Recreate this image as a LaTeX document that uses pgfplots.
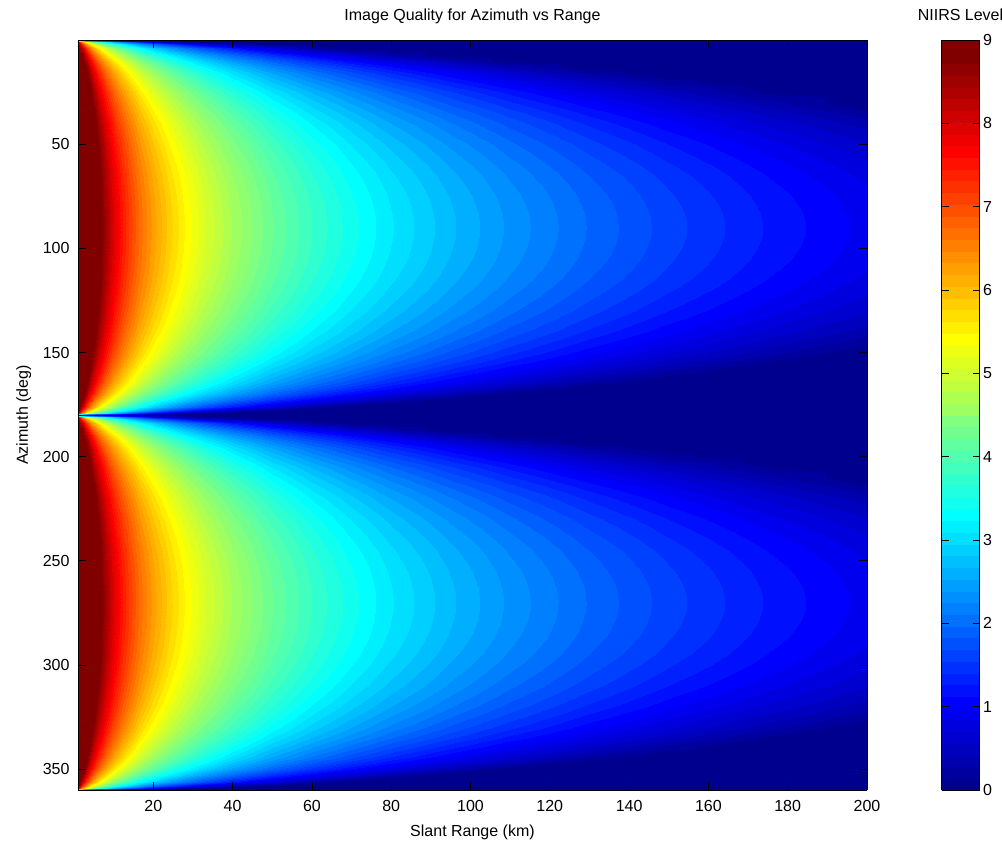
\documentclass[border=0pt]{standalone}
\usepackage{fontspec}
\setmainfont{Liberation Sans}
\usepackage{pgfplots}
\usepackage{pgfplotstable}
\pgfplotsset{compat=1.18}
\pgfplotsset{
  colormap={jet64}{
    rgb=(0,0,0.5625) rgb=(0,0,0.625) rgb=(0,0,0.6875) rgb=(0,0,0.75)
    rgb=(0,0,0.8125) rgb=(0,0,0.875) rgb=(0,0,0.9375) rgb=(0,0,1)
    rgb=(0,0.0625,1) rgb=(0,0.125,1) rgb=(0,0.1875,1) rgb=(0,0.25,1)
    rgb=(0,0.3125,1) rgb=(0,0.375,1) rgb=(0,0.4375,1) rgb=(0,0.5,1)
    rgb=(0,0.5625,1) rgb=(0,0.625,1) rgb=(0,0.6875,1) rgb=(0,0.75,1)
    rgb=(0,0.8125,1) rgb=(0,0.875,1) rgb=(0,0.9375,1) rgb=(0,1,1)
    rgb=(0.0625,1,0.9375) rgb=(0.125,1,0.875) rgb=(0.1875,1,0.8125) rgb=(0.25,1,0.75)
    rgb=(0.3125,1,0.6875) rgb=(0.375,1,0.625) rgb=(0.4375,1,0.5625) rgb=(0.5,1,0.5)
    rgb=(0.5625,1,0.4375) rgb=(0.625,1,0.375) rgb=(0.6875,1,0.3125) rgb=(0.75,1,0.25)
    rgb=(0.8125,1,0.1875) rgb=(0.875,1,0.125) rgb=(0.9375,1,0.0625) rgb=(1,1,0)
    rgb=(1,0.9375,0) rgb=(1,0.875,0) rgb=(1,0.8125,0) rgb=(1,0.75,0)
    rgb=(1,0.6875,0) rgb=(1,0.625,0) rgb=(1,0.5625,0) rgb=(1,0.5,0)
    rgb=(1,0.4375,0) rgb=(1,0.375,0) rgb=(1,0.3125,0) rgb=(1,0.25,0)
    rgb=(1,0.1875,0) rgb=(1,0.125,0) rgb=(1,0.0625,0) rgb=(1,0,0)
    rgb=(0.9375,0,0) rgb=(0.875,0,0) rgb=(0.8125,0,0) rgb=(0.75,0,0)
    rgb=(0.6875,0,0) rgb=(0.625,0,0) rgb=(0.5625,0,0) rgb=(0.5,0,0)
    rgb=(0.5,0,0)
  }
}
% NIIRS level on a grid: slant range r (km), azimuth az 0..90 deg
% (the pattern repeats symmetrically about 90, 180 and 270 deg)
\pgfplotstableread[row sep=\\]{
r az v\\
1 0 0\\2 0 0\\3 0 0\\4 0 0\\5 0 0\\6 0 0\\8 0 0\\10 0 0\\12 0 0\\14 0 0\\17 0 0\\20 0 0\\24 0 0\\28 0 0\\33 0 0\\40 0 0\\50 0 0\\60 0 0\\70 0 0\\80 0 0\\95 0 0\\110 0 0\\130 0 0\\150 0 0\\175 0 0\\200 0 0\\
1 1 8.066\\2 1 6.44\\3 1 5.49\\4 1 4.815\\5 1 4.292\\6 1 3.864\\8 1 3.189\\10 1 2.666\\12 1 2.238\\14 1 1.877\\17 1 1.422\\20 1 1.04\\24 1 0.613\\28 1 0.251\\33 1 0\\40 1 0\\50 1 0\\60 1 0\\70 1 0\\80 1 0\\95 1 0\\110 1 0\\130 1 0\\150 1 0\\175 1 0\\200 1 0\\
1 2 8.968\\2 2 7.342\\3 2 6.392\\4 2 5.717\\5 2 5.194\\6 2 4.766\\8 2 4.091\\10 2 3.568\\12 2 3.14\\14 2 2.779\\17 2 2.324\\20 2 1.942\\24 2 1.515\\28 2 1.153\\33 2 0.768\\40 2 0.317\\50 2 0\\60 2 0\\70 2 0\\80 2 0\\95 2 0\\110 2 0\\130 2 0\\150 2 0\\175 2 0\\200 2 0\\
1 4 9\\2 4 8.245\\3 4 7.295\\4 4 6.62\\5 4 6.097\\6 4 5.669\\8 4 4.994\\10 4 4.471\\12 4 4.043\\14 4 3.682\\17 4 3.227\\20 4 2.845\\24 4 2.418\\28 4 2.056\\33 4 1.671\\40 4 1.22\\50 4 0.697\\60 4 0.269\\70 4 0\\80 4 0\\95 4 0\\110 4 0\\130 4 0\\150 4 0\\175 4 0\\200 4 0\\
1 7 9\\2 7 8.972\\3 7 8.022\\4 7 7.347\\5 7 6.824\\6 7 6.396\\8 7 5.721\\10 7 5.198\\12 7 4.77\\14 7 4.409\\17 7 3.954\\20 7 3.572\\24 7 3.145\\28 7 2.783\\33 7 2.398\\40 7 1.947\\50 7 1.424\\60 7 0.996\\70 7 0.634\\80 7 0.321\\95 7 0\\110 7 0\\130 7 0\\150 7 0\\175 7 0\\200 7 0\\
1 10 9\\2 10 9\\3 10 8.483\\4 10 7.808\\5 10 7.285\\6 10 6.857\\8 10 6.182\\10 10 5.659\\12 10 5.231\\14 10 4.87\\17 10 4.415\\20 10 4.033\\24 10 3.606\\28 10 3.244\\33 10 2.859\\40 10 2.408\\50 10 1.885\\60 10 1.457\\70 10 1.095\\80 10 0.782\\95 10 0.379\\110 10 0.036\\130 10 0\\150 10 0\\175 10 0\\200 10 0\\
1 13 9\\2 13 9\\3 13 8.82\\4 13 8.145\\5 13 7.622\\6 13 7.194\\8 13 6.519\\10 13 5.996\\12 13 5.568\\14 13 5.207\\17 13 4.752\\20 13 4.37\\24 13 3.943\\28 13 3.581\\33 13 3.196\\40 13 2.745\\50 13 2.222\\60 13 1.794\\70 13 1.432\\80 13 1.119\\95 13 0.716\\110 13 0.373\\130 13 0\\150 13 0\\175 13 0\\200 13 0\\
1 16 9\\2 16 9\\3 16 9\\4 16 8.41\\5 16 7.887\\6 16 7.459\\8 16 6.784\\10 16 6.261\\12 16 5.833\\14 16 5.472\\17 16 5.017\\20 16 4.635\\24 16 4.208\\28 16 3.846\\33 16 3.461\\40 16 3.01\\50 16 2.487\\60 16 2.059\\70 16 1.697\\80 16 1.384\\95 16 0.981\\110 16 0.638\\130 16 0.246\\150 16 0\\175 16 0\\200 16 0\\
1 20 9\\2 20 9\\3 20 9\\4 20 8.691\\5 20 8.168\\6 20 7.74\\8 20 7.065\\10 20 6.542\\12 20 6.114\\14 20 5.753\\17 20 5.298\\20 20 4.916\\24 20 4.489\\28 20 4.127\\33 20 3.742\\40 20 3.291\\50 20 2.768\\60 20 2.34\\70 20 1.978\\80 20 1.665\\95 20 1.262\\110 20 0.919\\130 20 0.527\\150 20 0.191\\175 20 0\\200 20 0\\
1 25 9\\2 25 9\\3 25 9\\4 25 8.967\\5 25 8.444\\6 25 8.016\\8 25 7.341\\10 25 6.818\\12 25 6.39\\14 25 6.029\\17 25 5.574\\20 25 5.192\\24 25 4.765\\28 25 4.403\\33 25 4.018\\40 25 3.567\\50 25 3.044\\60 25 2.616\\70 25 2.254\\80 25 1.941\\95 25 1.538\\110 25 1.195\\130 25 0.803\\150 25 0.467\\175 25 0.106\\200 25 0\\
1 30 9\\2 30 9\\3 30 9\\4 30 9\\5 30 8.663\\6 30 8.235\\8 30 7.56\\10 30 7.037\\12 30 6.609\\14 30 6.248\\17 30 5.793\\20 30 5.411\\24 30 4.984\\28 30 4.622\\33 30 4.237\\40 30 3.786\\50 30 3.263\\60 30 2.835\\70 30 2.473\\80 30 2.16\\95 30 1.757\\110 30 1.414\\130 30 1.022\\150 30 0.686\\175 30 0.325\\200 30 0.011\\
1 35 9\\2 35 9\\3 35 9\\4 35 9\\5 35 8.842\\6 35 8.414\\8 35 7.739\\10 35 7.216\\12 35 6.788\\14 35 6.427\\17 35 5.972\\20 35 5.59\\24 35 5.163\\28 35 4.801\\33 35 4.416\\40 35 3.965\\50 35 3.442\\60 35 3.014\\70 35 2.652\\80 35 2.339\\95 35 1.936\\110 35 1.593\\130 35 1.201\\150 35 0.865\\175 35 0.504\\200 35 0.19\\
1 40 9\\2 40 9\\3 40 9\\4 40 9\\5 40 8.99\\6 40 8.562\\8 40 7.887\\10 40 7.364\\12 40 6.936\\14 40 6.575\\17 40 6.12\\20 40 5.738\\24 40 5.311\\28 40 4.949\\33 40 4.564\\40 40 4.113\\50 40 3.59\\60 40 3.162\\70 40 2.8\\80 40 2.487\\95 40 2.084\\110 40 1.741\\130 40 1.349\\150 40 1.013\\175 40 0.652\\200 40 0.338\\
1 45 9\\2 45 9\\3 45 9\\4 45 9\\5 45 9\\6 45 8.686\\8 45 8.011\\10 45 7.488\\12 45 7.06\\14 45 6.699\\17 45 6.244\\20 45 5.862\\24 45 5.435\\28 45 5.073\\33 45 4.688\\40 45 4.237\\50 45 3.714\\60 45 3.286\\70 45 2.924\\80 45 2.611\\95 45 2.208\\110 45 1.865\\130 45 1.473\\150 45 1.137\\175 45 0.776\\200 45 0.462\\
1 50 9\\2 50 9\\3 50 9\\4 50 9\\5 50 9\\6 50 8.791\\8 50 8.116\\10 50 7.593\\12 50 7.165\\14 50 6.804\\17 50 6.349\\20 50 5.967\\24 50 5.54\\28 50 5.178\\33 50 4.793\\40 50 4.342\\50 50 3.819\\60 50 3.391\\70 50 3.029\\80 50 2.716\\95 50 2.313\\110 50 1.97\\130 50 1.578\\150 50 1.242\\175 50 0.881\\200 50 0.567\\
1 55 9\\2 55 9\\3 55 9\\4 55 9\\5 55 9\\6 55 8.878\\8 55 8.203\\10 55 7.68\\12 55 7.252\\14 55 6.891\\17 55 6.436\\20 55 6.054\\24 55 5.627\\28 55 5.265\\33 55 4.88\\40 55 4.429\\50 55 3.906\\60 55 3.478\\70 55 3.116\\80 55 2.803\\95 55 2.4\\110 55 2.057\\130 55 1.665\\150 55 1.329\\175 55 0.968\\200 55 0.654\\
1 60 9\\2 60 9\\3 60 9\\4 60 9\\5 60 9\\6 60 8.95\\8 60 8.275\\10 60 7.752\\12 60 7.324\\14 60 6.963\\17 60 6.508\\20 60 6.126\\24 60 5.699\\28 60 5.337\\33 60 4.952\\40 60 4.501\\50 60 3.978\\60 60 3.55\\70 60 3.188\\80 60 2.875\\95 60 2.472\\110 60 2.129\\130 60 1.737\\150 60 1.401\\175 60 1.04\\200 60 0.726\\
1 65 9\\2 65 9\\3 65 9\\4 65 9\\5 65 9\\6 65 9\\8 65 8.335\\10 65 7.812\\12 65 7.384\\14 65 7.023\\17 65 6.568\\20 65 6.186\\24 65 5.759\\28 65 5.397\\33 65 5.012\\40 65 4.561\\50 65 4.038\\60 65 3.61\\70 65 3.248\\80 65 2.935\\95 65 2.532\\110 65 2.189\\130 65 1.797\\150 65 1.461\\175 65 1.1\\200 65 0.786\\
1 70 9\\2 70 9\\3 70 9\\4 70 9\\5 70 9\\6 70 9\\8 70 8.382\\10 70 7.859\\12 70 7.431\\14 70 7.07\\17 70 6.615\\20 70 6.233\\24 70 5.806\\28 70 5.444\\33 70 5.059\\40 70 4.608\\50 70 4.085\\60 70 3.657\\70 70 3.295\\80 70 2.982\\95 70 2.579\\110 70 2.236\\130 70 1.844\\150 70 1.508\\175 70 1.147\\200 70 0.833\\
1 75 9\\2 75 9\\3 75 9\\4 75 9\\5 75 9\\6 75 9\\8 75 8.418\\10 75 7.895\\12 75 7.467\\14 75 7.106\\17 75 6.651\\20 75 6.269\\24 75 5.842\\28 75 5.48\\33 75 5.095\\40 75 4.644\\50 75 4.121\\60 75 3.693\\70 75 3.331\\80 75 3.018\\95 75 2.615\\110 75 2.272\\130 75 1.88\\150 75 1.544\\175 75 1.183\\200 75 0.869\\
1 80 9\\2 80 9\\3 80 9\\4 80 9\\5 80 9\\6 80 9\\8 80 8.443\\10 80 7.92\\12 80 7.492\\14 80 7.131\\17 80 6.676\\20 80 6.294\\24 80 5.867\\28 80 5.505\\33 80 5.12\\40 80 4.669\\50 80 4.146\\60 80 3.718\\70 80 3.356\\80 80 3.043\\95 80 2.64\\110 80 2.297\\130 80 1.905\\150 80 1.569\\175 80 1.208\\200 80 0.894\\
1 85 9\\2 85 9\\3 85 9\\4 85 9\\5 85 9\\6 85 9\\8 85 8.458\\10 85 7.935\\12 85 7.507\\14 85 7.146\\17 85 6.691\\20 85 6.309\\24 85 5.882\\28 85 5.52\\33 85 5.135\\40 85 4.684\\50 85 4.161\\60 85 3.733\\70 85 3.371\\80 85 3.058\\95 85 2.655\\110 85 2.312\\130 85 1.92\\150 85 1.584\\175 85 1.223\\200 85 0.909\\
1 90 9\\2 90 9\\3 90 9\\4 90 9\\5 90 9\\6 90 9\\8 90 8.463\\10 90 7.94\\12 90 7.512\\14 90 7.151\\17 90 6.696\\20 90 6.314\\24 90 5.887\\28 90 5.525\\33 90 5.14\\40 90 4.689\\50 90 4.166\\60 90 3.738\\70 90 3.376\\80 90 3.063\\95 90 2.66\\110 90 2.317\\130 90 1.925\\150 90 1.589\\175 90 1.228\\200 90 0.914\\
}\niirs
\begin{document}
\begin{tikzpicture}
\useasboundingbox (-78pt,-56pt) rectangle (924pt,790pt);
\begin{axis}[
  at={(0pt,0pt)}, anchor=south west,
  view={0}{90},
  scale only axis, width=789pt, height=750pt,
  xmin=1, xmax=200, ymin=0, ymax=360,
  y dir=reverse,
  enlargelimits=false,
  xtick={20,40,...,200}, ytick={50,100,...,350},
  tick align=inside, major tick length=8pt,
  axis on top,
  axis line style={line width=0.8pt},
  every tick/.style={black, line width=0.8pt},
  /pgf/number format/assume math mode=true,
  tick label style={font=\fontsize{16}{18}\selectfont},
  xticklabel style={yshift=-7pt},
  yticklabel style={xshift=-5pt},
  title={Image Quality for Azimuth vs Range},
  title style={font=\fontsize{16}{18}\selectfont, at={(axis description cs:0.5,1)}, anchor=base, yshift=14pt},
  xlabel={Slant Range (km)},
  xlabel style={font=\fontsize{16}{18}\selectfont, at={(axis description cs:0.5,0)}, anchor=base, yshift=-46pt},
  colormap name=jet64,
  colormap access=piecewise constant,
  point meta min=0, point meta max=9,
  colorbar sampled,
  colorbar style={
    samples=65,
    at={(parent axis.north east)}, anchor=north west, xshift=66pt,
    scale only axis, width=38pt, height=750pt,
    ytick={0,1,...,9},
    yticklabel pos=right,
    tick align=inside, major tick length=7pt,
    axis line style={line width=0.8pt},
    every tick/.style={black, line width=0.8pt},
    /pgf/number format/assume math mode=true,
    yticklabel style={font=\fontsize{16}{18}\selectfont},
    title={NIIRS Level},
    title style={font=\fontsize{16}{18}\selectfont, at={(axis description cs:0.5,1)}, anchor=base, yshift=14pt},
  },
]
\addplot3[surf, shader=interp, mesh/cols=26] table[x=r, y=az, z=v] {\niirs};
\addplot3[surf, shader=interp, mesh/cols=26] table[x=r, y expr=180-\thisrow{az}, z=v] {\niirs};
\addplot3[surf, shader=interp, mesh/cols=26] table[x=r, y expr=180+\thisrow{az}, z=v] {\niirs};
\addplot3[surf, shader=interp, mesh/cols=26] table[x=r, y expr=360-\thisrow{az}, z=v] {\niirs};
\end{axis}
\node[rotate=90, anchor=base, font=\fontsize{16}{18}\selectfont] at (-50pt,375pt) {Azimuth (deg)};
\end{tikzpicture}
\end{document}
